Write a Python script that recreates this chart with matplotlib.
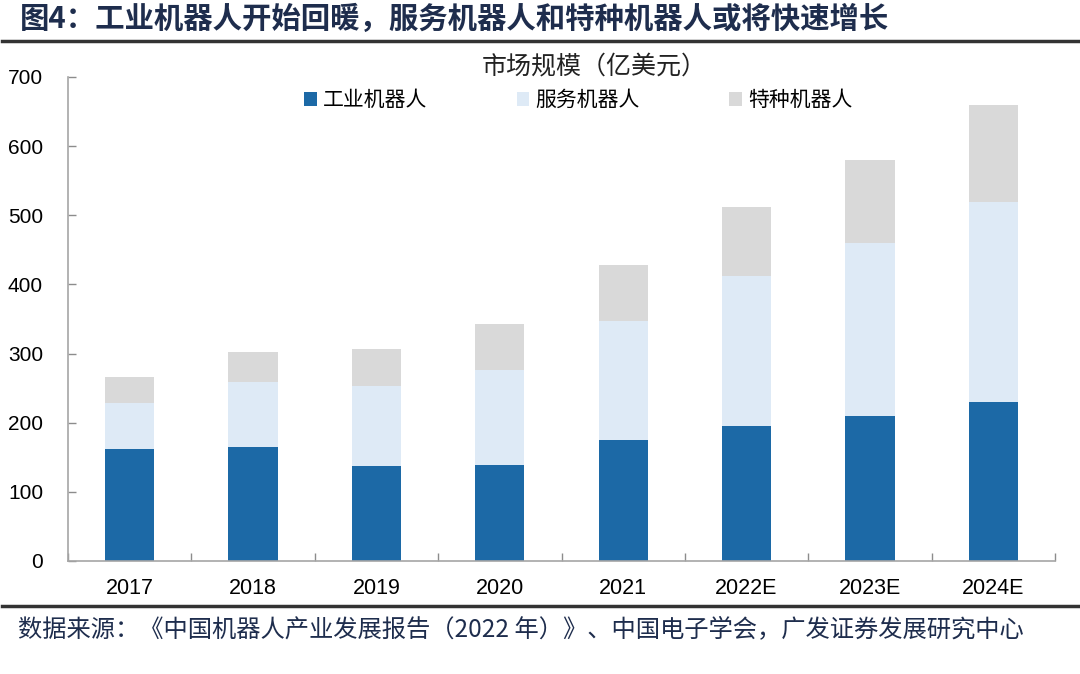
import matplotlib
matplotlib.use("Agg")
import matplotlib.pyplot as plt
from matplotlib.patches import Patch
from matplotlib.lines import Line2D
import numpy as np

plt.rcParams['font.family'] = ['Liberation Sans', 'Noto Sans CJK SC', 'DejaVu Sans']

categories = ["2017", "2018", "2019", "2020", "2021", "2022E", "2023E", "2024E"]
industrial = [162, 165, 137, 139, 175, 195, 210, 230]
service = [66, 94, 116, 137, 172, 217, 250, 289]
special = [38, 43, 54, 67, 81, 100, 120, 141]
series_names = ["工业机器人", "服务机器人", "特种机器人"]
colors = ["#1c69a6", "#deeaf6", "#d9d9d9"]

fig = plt.figure(figsize=(10.8, 6.74), dpi=100)
ax = fig.add_axes([68/1080, 1-561/674, (1055-68)/1080, (561-77)/674])

x = np.arange(len(categories))
w = 0.40
ind = np.array(industrial); srv = np.array(service); spc = np.array(special)
ax.bar(x, ind, w, color=colors[0], label=series_names[0])
ax.bar(x, srv, w, bottom=ind, color=colors[1], label=series_names[1])
ax.bar(x, spc, w, bottom=ind+srv, color=colors[2], label=series_names[2])

ax.set_xlim(-0.5, len(categories)-0.5)
ax.set_ylim(0, 700)
ax.set_yticks(range(0, 701, 100))
ax.set_xticks(x)
ax.set_xticklabels(categories)
ax.set_xticks(np.arange(-0.5, len(categories)), minor=True)
ax.tick_params(axis='x', which='major', length=0, pad=12, labelsize=15.5, colors='black')
ax.tick_params(axis='x', which='minor', direction='in', length=6, color='#8c8c8c', width=1)
ax.tick_params(axis='y', direction='in', length=6, color='#8c8c8c', width=1, pad=18, labelsize=15)
for s in ['top', 'right']:
    ax.spines[s].set_visible(False)
for s in ['left', 'bottom']:
    ax.spines[s].set_color('#a6a6a6')
    ax.spines[s].set_linewidth(1.2)

handles = [Patch(facecolor=c, edgecolor='none') for c in colors]
leg = ax.legend(handles, series_names, loc='center', bbox_to_anchor=(0.517, 0.952),
                ncol=3, frameon=False, handlelength=0.6, handleheight=0.6,
                handletextpad=0.3, columnspacing=4.3,
                prop={'family': ['Noto Sans CJK SC'], 'size': 15})

fig.text(594/1080, 1-66/674, "市场规模（亿美元）", ha='center', va='center',
         fontsize=18, family=['Noto Sans CJK SC'], color='#222222')

fig.text(20/1080, 1-19/674, "图4：工业机器人开始回暖，服务机器人和特种机器人或将快速增长",
         ha='left', va='center', fontsize=21.2, fontweight='bold',
         family=['Noto Sans CJK SC'], color='#1e2d4d')

fig.add_artist(Line2D([2/1080, 1078/1080], [1-41/674, 1-41/674], color='#333333', lw=2.5))
fig.add_artist(Line2D([2/1080, 1078/1080], [1-606/674, 1-606/674], color='#333333', lw=2.5))

fig.text(18/1080, 1-629/674,
         "数据来源：《中国机器人产业发展报告（2022 年）》、中国电子学会，广发证券发展研究中心",
         ha='left', va='center', fontsize=17.5, family=['Noto Sans CJK SC', 'Liberation Sans'],
         color='#1e2d4d')

fig.savefig("out.png", dpi=100)
